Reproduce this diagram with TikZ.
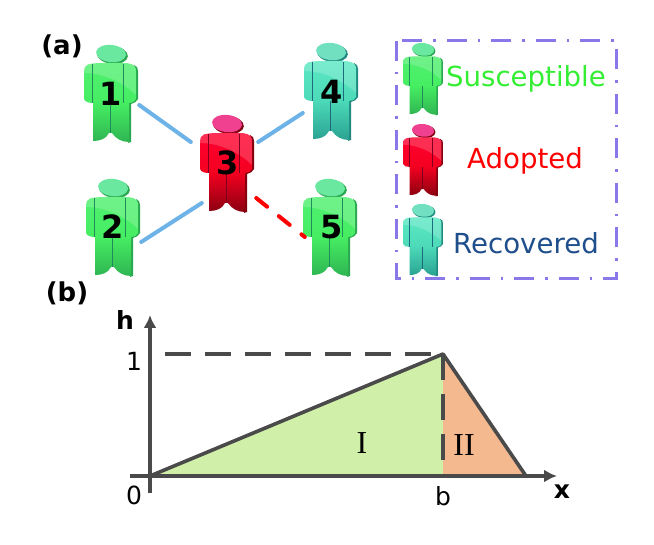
\documentclass[tikz,border=0pt]{standalone}
\usepackage{fontspec}
\setmainfont{DejaVu Sans}
\newfontfamily\romanfont{Liberation Serif}
\usetikzlibrary{arrows.meta}
\newcommand{\fsz}[1]{\fontsize{#1}{#1}\selectfont}
% palettes: top, middle, bottom, side, head, crease
\definecolor{gTop}{HTML}{50F070}\definecolor{gMid}{HTML}{46EE62}\definecolor{gBot}{HTML}{2FB552}
\definecolor{gSide}{HTML}{2AA850}\definecolor{gHead}{HTML}{6BE8A0}\definecolor{gLine}{HTML}{1F8A5A}
\definecolor{rTop}{HTML}{FF0030}\definecolor{rMid}{HTML}{F40020}\definecolor{rBot}{HTML}{8A0010}
\definecolor{rSide}{HTML}{80000E}\definecolor{rHead}{HTML}{F04090}\definecolor{rLine}{HTML}{800020}
\definecolor{tTop}{HTML}{5CE8C4}\definecolor{tMid}{HTML}{4CDAB8}\definecolor{tBot}{HTML}{2AA292}
\definecolor{tSide}{HTML}{208A80}\definecolor{tHead}{HTML}{70E0C0}\definecolor{tLine}{HTML}{1C6A80}
\definecolor{linkBlue}{HTML}{6DB3E8}
\definecolor{boxPurple}{HTML}{8878EA}
\definecolor{axisGrey}{HTML}{4A4A4A}
\definecolor{partOne}{HTML}{D0EFA8}
\definecolor{partTwo}{HTML}{F4B98F}
\tikzset{
  pics/person/.style={code={
    % head with its shadowed crescent
    \fill[#1Side,rotate around={-6:(27.5,9)}] (28.5,9.8) ellipse [x radius=15.5,y radius=9];
    \fill[#1Head,rotate around={-6:(27.5,9)}] (27,8.6) ellipse [x radius=15,y radius=8.6];
    % thin side faces for depth
    \fill[#1Side] (50,20) .. controls (53,21) and (54,23) .. (54,26) -- (54,54)
      .. controls (53,57) and (50,58) .. (47,59) -- (47,97) -- (44,98) -- (44,58) -- cycle;
    % body outline
    \path[top color=#1Top,bottom color=#1Bot,middle color=#1Mid]
      (4,19.5) .. controls (10,18) and (15,18) .. (20,18) -- (38,18)
      .. controls (46,18) and (52,19) .. (52,26) -- (52,54)
      .. controls (51,57) and (48,58) .. (45,58) -- (45,97)
      .. controls (38,97) and (32,94) .. (28,88) -- (25,88)
      .. controls (22,94) and (16,96) .. (9,96) -- (9,58)
      .. controls (5,58) and (1,57) .. (0,54) -- (0,26)
      .. controls (0,23) and (1,21) .. (4,19.5) -- cycle;
    % glossy highlight across the upper body
    \begin{scope}
      \clip (4,19.5) .. controls (10,18) and (15,18) .. (20,18) -- (38,18)
        .. controls (46,18) and (52,19) .. (52,26) -- (52,54) -- (0,54) -- (0,26)
        .. controls (0,23) and (1,21) .. (4,19.5) -- cycle;
      \fill[white,opacity=.18] (0,18) -- (0,28) .. controls (20,28) and (40,38) .. (52,50) -- (52,18) -- cycle;
    \end{scope}
    % creases of arms and legs
    \draw[#1Line,line width=.6] (8,19) -- (8,58);
    \draw[#1Line,line width=.6] (39,19) -- (39,58);
    \draw[#1Line,line width=.6] (26,58) -- (26,88);
  }},
  numlabel/.style={minimum width=54,minimum height=98,inner sep=0,font=\bfseries\fsz{32}},
  link/.style={linkBlue,line width=4,line cap=round},
  hotlink/.style={red,line width=4,line cap=round,dash pattern=on 14 off 15},
  legendbox/.style={boxPurple,line width=3,dash pattern=on 20 off 11 on 2.5 off 11},
  legendtext/.style={font=\fsz{27.6},inner sep=0,anchor=base},
  panel/.style={font=\bfseries\fsz{26},inner sep=0},
  axis/.style={axisGrey,line width=3.4,-{Latex[length=13,width=13]}},
  guide/.style={axisGrey,line width=3.4,dash pattern=on 26 off 14},
  curve/.style={axisGrey,line width=3.6},
  ticktext/.style={font=\fsz{25},inner sep=0},
  axistext/.style={font=\bfseries\fsz{25},inner sep=0},
  romantext/.style={font=\romanfont\fsz{32},inner sep=0},
}
\begin{document}
\begin{tikzpicture}[x=1pt,y=-1pt]
\useasboundingbox (0,0) rectangle (654,545);
\fill[white] (0,0) rectangle (654,545);

\node[panel] (lblA) at (62,46) {(a)};
\node[panel] (lblB) at (67,293) {(b)};

% the five individuals
\pic at (84,45) {person=g};
\pic at (86,179) {person=g};
\pic at (200,115) {person=r};
\pic at (304,43) {person=t};
\pic at (303,179) {person=g};
\node[numlabel] (p1) at (111,94) {1};
\node[numlabel] (p2) at (113,227) {2};
\node[numlabel] (p3) at (228,163) {3};
\node[numlabel] (p4) at (332,92) {4};
\node[numlabel] (p5) at (332,227) {5};

% contacts
\draw[link] ([shift={(1,11)}]p1.east) -- ([shift={(-10,-21)}]p3.west);
\draw[link] ([shift={(1,15)}]p2.east) -- ([shift={(1,40)}]p3.west);
\draw[link] ([shift={(3,-21)}]p3.east) -- ([shift={(-2,21)}]p4.west);
\draw[hotlink] ([shift={(1,35)}]p3.east) -- ([shift={(0,10)}]p5.west);

% legend
\draw[legendbox] (396,41) rectangle (616,279);
\pic[scale=.74] at (403,43) {person=g};
\pic[scale=.74] at (403,124) {person=r};
\pic[scale=.74] at (403,204) {person=t};
\node[legendtext] (lS) at (526,87) {\color[HTML]{33EE33}Susceptible};
\node[legendtext,text=red] (lA) at (525,169) {Adopted};
\node[legendtext,text={rgb,255:red,31;green,78;blue,140}] (lR) at (526,254) {Recovered};

% triangular profile
\coordinate (o) at (150,476);
\coordinate (peak) at (443,354);
\coordinate (foot) at (443,476);
\coordinate (end) at (526,476);
\coordinate (xl) at (130,476);
\coordinate (xr) at (557,476);
\coordinate (yb) at (150,493);
\coordinate (yt) at (150,315);
\coordinate (gs) at (165,354);
\fill[partOne] (o) -- (peak) -- (foot) -- cycle;
\fill[partTwo] (foot) -- (peak) -- (end) -- cycle;
\draw[axis] (xl) -- (xr);
\draw[axis] (yb) -- (yt);
\draw[guide] (gs) -- (peak);
\draw[guide] (peak) -- (foot);
\draw[curve,line join=round] (o) -- (peak) -- (end);

\node[axistext] (h) at (125,320) {h};
\node[ticktext] (one) at (134,361) {1};
\node[ticktext] (zero) at (134,495) {0};
\node[ticktext] (bb) at (443,496) {b};
\node[axistext] (x) at (562,492) {x};
\node[romantext] (I) at (362,443) {I};
\node[romantext] (II) at (464,445) {II};
\end{tikzpicture}
\end{document}
